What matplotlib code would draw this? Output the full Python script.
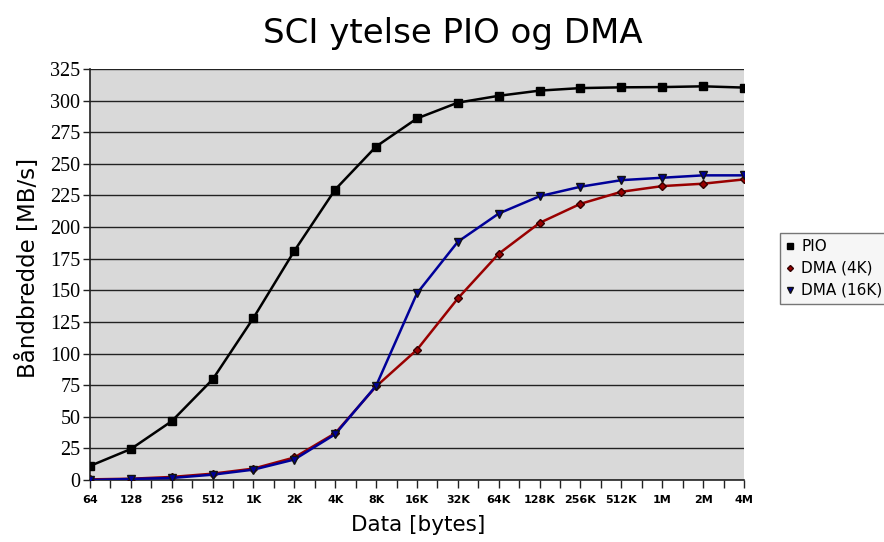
import matplotlib
matplotlib.use("Agg")
import matplotlib.pyplot as plt
import numpy as np

categories = ["64", "128", "256", "512", "1K", "2K", "4K", "8K", "16K", "32K",
              "64K", "128K", "256K", "512K", "1M", "2M", "4M"]
pio = [11.1, 24.5, 46.5, 79.5, 128.2, 181.2, 229.7, 263.7, 285.9, 298.4,
       303.8, 307.9, 309.9, 310.5, 310.7, 311.3, 310.3]
dma_4k = [0.5, 1.0, 2.4, 5.0, 9.0, 17.8, 37.0, 74.0, 103.0, 143.6,
          178.9, 203.3, 218.4, 227.9, 232.4, 234.3, 237.7]
dma_16k = [0.0, 0.8, 1.6, 4.2, 8.2, 16.2, 36.2, 74.5, 147.6, 188.4,
           210.7, 224.4, 231.9, 237.1, 239.0, 240.9, 240.9]
yticks = list(range(0, 326, 25))

fig = plt.figure(figsize=(8.84, 5.42), dpi=100)
ax = fig.add_axes([0.1018, 0.1144, 0.7398, 0.7583])
ax.set_facecolor("#d9d9d9")

x = np.arange(len(categories))
ax.plot(x, pio, color="black", lw=1.8, marker="s", ms=5.8,
        mfc="black", mec="black", label="PIO", zorder=3)
ax.plot(x, dma_4k, color="#990000", lw=1.8, marker="D", ms=3.8,
        mfc="#990000", mec="#330000", label="DMA (4K)", zorder=4)
ax.plot(x, dma_16k, color="#000099", lw=1.8, marker="v", ms=6,
        mfc="#000099", mec="#111111", label="DMA (16K)", zorder=5)

ax.set_xlim(0, len(categories) - 1)
ax.set_ylim(0, 325)
ax.set_yticks(yticks)
ax.set_yticklabels([str(v) for v in yticks], fontfamily="Liberation Serif",
                   fontsize=14.5)
ax.set_xticks(x)
ax.set_xticklabels(categories, fontsize=8, fontweight="bold",
                   fontfamily="DejaVu Sans")
ax.set_xticks(x[:-1] + 0.5, minor=True)
ax.tick_params(axis="x", which="both", length=6, width=1, color="#222222",
               direction="out", pad=5)
ax.tick_params(axis="y", length=5, width=1, color="#222222", pad=2)

ax.grid(axis="y", color="#222222", lw=1.0, zorder=1)
ax.set_axisbelow(True)
for s in ["top", "right"]:
    ax.spines[s].set_visible(False)
for s in ["left", "bottom"]:
    ax.spines[s].set_color("#222222")
    ax.spines[s].set_linewidth(1.2)

fig.text(0.512, 0.938, "SCI ytelse PIO og DMA", ha="center", va="center",
         fontsize=24.5, fontfamily="DejaVu Sans")
fig.text(0.032, 0.505, "Båndbredde [MB/s]", ha="center", va="center",
         rotation=90, fontsize=16.5, fontfamily="DejaVu Sans")
fig.text(0.473, 0.031, "Data [bytes]", ha="center", va="center",
         fontsize=15.5, fontfamily="DejaVu Sans")

leg = fig.legend(loc="upper left", bbox_to_anchor=(780 / 884, 1 - 233 / 542),
                 frameon=True, fancybox=False, fontsize=11,
                 handlelength=0.5, handletextpad=0.5, borderpad=0.4,
                 labelspacing=0.45, borderaxespad=0, markerscale=0.8)
leg.get_frame().set_edgecolor("#555555")
leg.get_frame().set_facecolor("#f4f4f4")
leg.get_frame().set_linewidth(1.0)
for h in leg.legend_handles:
    h.set_linestyle("none")

fig.savefig("out.png", dpi=100)
